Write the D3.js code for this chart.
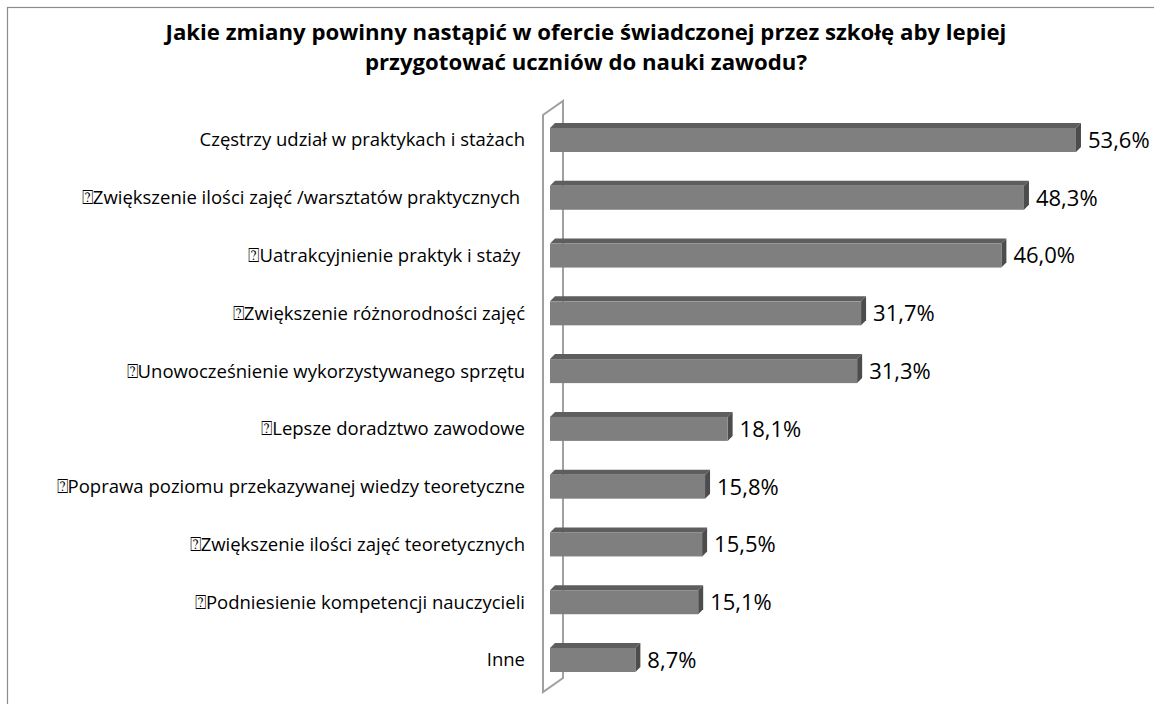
<!DOCTYPE html>
<html>
<head>
<meta charset="utf-8">
<script src="https://d3js.org/d3.v7.min.js"></script>
<style>
  body { margin: 0; background: white; }
  svg { display: block; }
</style>
</head>
<body>
<script>
// data
var categories = [
  "Częstrzy udział w praktykach i stażach",
  "⍰Zwiększenie ilości zajęć /warsztatów praktycznych ",
  "⍰Uatrakcyjnienie praktyk i staży ",
  "⍰Zwiększenie różnorodności zajęć",
  "⍰Unowocześnienie wykorzystywanego sprzętu",
  "⍰Lepsze doradztwo zawodowe",
  "⍰Poprawa poziomu przekazywanej wiedzy teoretyczne",
  "⍰Zwiększenie ilości zajęć teoretycznych",
  "⍰Podniesienie kompetencji nauczycieli",
  "Inne"
];
var values = [53.6, 48.3, 46.0, 31.7, 31.3, 18.1, 15.8, 15.5, 15.1, 8.7];
var titleLines = [
  "Jakie zmiany powinny nastąpić w ofercie świadczonej przez szkołę aby lepiej",
  "przygotować uczniów do nauki zawodu?"
];

var W = 1154, H = 704;
var svg = d3.select("body").append("svg").attr("width", W).attr("height", H);

// outer frame (runs off the page right and bottom)
svg.append("rect")
  .attr("x", 7.5).attr("y", 7.5)
  .attr("width", 1300).attr("height", 900)
  .attr("fill", "white")
  .attr("stroke", "#8c8c8c")
  .attr("stroke-width", 1.2);

// title
svg.append("g").selectAll("text")
  .data(titleLines)
  .enter().append("text")
  .attr("x", 586)
  .attr("y", function(d, i){ return 40 + i * 30; })
  .attr("text-anchor", "middle")
  .attr("font-family", "Open Sans, sans-serif")
  .attr("font-weight", "bold")
  .attr("font-size", "22.2px")
  .attr("fill", "#000")
  .text(function(d){ return d; });

// scales
var x = d3.scaleLinear().domain([0, 60]).range([550, 550 + 60 * 9.813]);
var y = d3.scalePoint().domain(categories).range([140, 660]);
var barH = 24, dep = 5;

// 3d wall on the category axis
var wallX = 543, wallD = 20, wallDy = 14;
svg.append("path")
  .attr("d", "M" + wallX + "," + 692 + "L" + wallX + "," + 115 +
             "L" + (wallX + wallD) + "," + (115 - wallDy) +
             "L" + (wallX + wallD) + "," + (692 - wallDy) + "Z")
  .attr("fill", "none")
  .attr("stroke", "#a0a0a0")
  .attr("stroke-width", 2);

var data = categories.map(function(c, i){ return { cat: c, val: values[i] }; });

var bars = svg.append("g").selectAll("g")
  .data(data)
  .enter().append("g");

// top face
bars.append("path")
  .attr("fill", "#5e5e5e")
  .attr("d", function(d){
    var x0 = x(0), x1 = x(d.val), t = y(d.cat) - barH / 2;
    return "M" + x0 + "," + t + "L" + (x0 + dep) + "," + (t - dep) +
           "L" + (x1 + dep) + "," + (t - dep) + "L" + x1 + "," + t + "Z";
  });
// side face
bars.append("path")
  .attr("fill", "#4c4c4c")
  .attr("d", function(d){
    var x1 = x(d.val), t = y(d.cat) - barH / 2;
    return "M" + x1 + "," + t + "L" + (x1 + dep) + "," + (t - dep) +
           "L" + (x1 + dep) + "," + (t + barH - dep) + "L" + x1 + "," + (t + barH) + "Z";
  });
// front face
bars.append("rect")
  .attr("fill", "#7f7f7f")
  .attr("x", x(0))
  .attr("y", function(d){ return y(d.cat) - barH / 2; })
  .attr("width", function(d){ return x(d.val) - x(0); })
  .attr("height", barH);

// value labels
bars.append("text")
  .attr("x", function(d){ return x(d.val) + dep + 7; })
  .attr("y", function(d){ return y(d.cat); })
  .attr("dy", "0.36em")
  .attr("font-family", "Open Sans, sans-serif")
  .attr("font-size", "22px")
  .attr("fill", "#000")
  .text(function(d){ return d3.format(".1f")(d.val).replace(".", ",") + "%"; });

// category labels
svg.append("g").selectAll("text")
  .data(categories)
  .enter().append("text")
  .attr("x", 525)
  .attr("y", function(d){ return y(d); })
  .attr("dy", "0.35em")
  .attr("text-anchor", "end")
  .attr("font-family", "Open Sans, sans-serif")
  .attr("font-size", "18.5px")
  .attr("fill", "#000")
  .style("white-space", "pre")
  .text(function(d){ return d; });
</script>
</body>
</html>
